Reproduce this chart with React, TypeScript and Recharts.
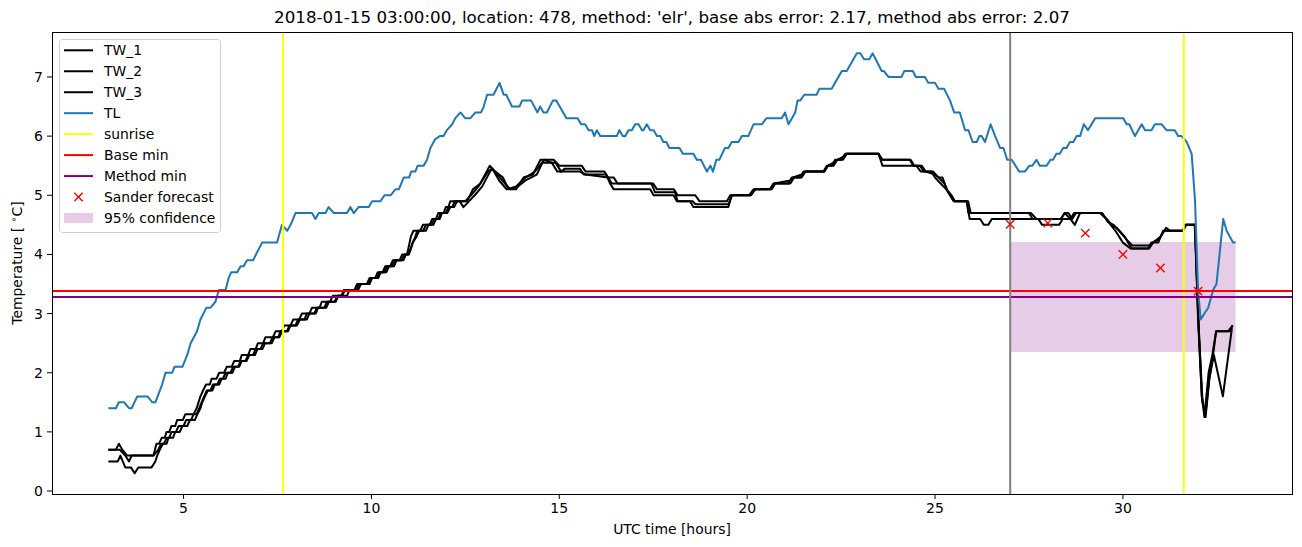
import {
  ComposedChart,
  Line,
  Scatter,
  XAxis,
  YAxis,
  ReferenceLine,
  ReferenceArea,
} from "recharts";

const W = 1302;
const H = 547;
const FONT = "DejaVu Sans, Verdana, sans-serif";

const TITLE =
  "2018-01-15 03:00:00, location: 478, method: 'elr', base abs error: 2.17, method abs error: 2.07";

const X_TICKS = [5, 10, 15, 20, 25, 30];
const Y_TICKS = [0, 1, 2, 3, 4, 5, 6, 7];

// [hour, temperature]
const TW_1: [number, number][] = [
  [3.0, 0.7], [3.2, 0.7], [3.28, 0.8], [3.37, 0.7], [3.5, 0.6], [4.2, 0.6], [4.28, 0.8],
  [4.35, 0.8], [4.42, 0.9], [4.5, 0.9], [4.55, 1.0], [4.62, 1.0], [4.68, 1.1], [4.78, 1.1],
  [4.83, 1.2], [4.98, 1.2], [5.05, 1.3], [5.27, 1.3], [5.35, 1.4], [5.4, 1.5], [5.45, 1.6],
  [5.52, 1.7], [5.6, 1.8], [5.7, 1.8], [5.75, 1.9], [5.88, 1.9], [5.95, 2.0], [6.08, 2.0],
  [6.15, 2.1], [6.28, 2.1], [6.35, 2.2], [6.5, 2.2], [6.55, 2.3], [6.72, 2.3], [6.78, 2.4],
  [6.92, 2.4], [6.98, 2.5], [7.12, 2.5], [7.18, 2.6], [7.38, 2.6], [7.45, 2.7], [7.62, 2.7],
  [7.68, 2.8], [7.85, 2.8], [7.92, 2.9], [8.08, 2.9], [8.15, 3.0], [8.35, 3.0], [8.42, 3.1],
  [8.62, 3.1], [8.68, 3.2], [8.9, 3.2], [8.97, 3.3], [9.2, 3.3], [9.27, 3.4], [9.55, 3.4],
  [9.62, 3.5], [9.88, 3.5], [9.95, 3.6], [10.1, 3.6], [10.17, 3.7], [10.3, 3.7], [10.37, 3.8],
  [10.5, 3.8], [10.57, 3.9], [10.75, 3.9], [10.82, 4.0], [10.95, 4.0], [11.05, 4.3], [11.12, 4.4],
  [11.3, 4.4], [11.37, 4.5], [11.55, 4.5], [11.62, 4.6], [11.72, 4.6], [11.78, 4.7], [11.92, 4.7],
  [11.98, 4.8], [12.05, 4.8], [12.1, 4.9], [12.55, 4.9],
  [12.7, 5.1], [12.9, 5.2], [13.15, 5.5], [13.3, 5.4], [13.5, 5.3], [13.65, 5.1], [13.85, 5.1],
  [14.05, 5.3], [14.3, 5.35], [14.5, 5.6], [14.85, 5.6], [15.0, 5.5], [15.6, 5.5], [15.7, 5.4],
  [16.2, 5.4], [16.3, 5.3], [16.45, 5.3], [16.55, 5.2], [17.5, 5.2], [17.6, 5.1], [18.05, 5.1],
  [18.15, 5.0], [18.62, 5.0], [18.73, 4.9], [19.46, 4.9], [19.55, 5.0], [20.05, 5.0], [20.17, 5.1],
  [20.61, 5.1], [20.7, 5.2], [21.1, 5.2], [21.19, 5.3], [21.41, 5.3], [21.5, 5.4], [22.03, 5.4],
  [22.12, 5.5], [22.25, 5.5], [22.34, 5.6], [22.5, 5.6], [22.61, 5.7], [23.49, 5.7], [23.58, 5.6],
  [24.33, 5.6], [24.42, 5.5], [24.6, 5.5], [24.7, 5.4], [24.95, 5.4], [25.09, 5.3], [25.2, 5.3],
  [25.31, 5.1], [25.44, 5.0], [25.53, 4.9], [25.84, 4.9], [25.89, 4.7], [27.5, 4.7], [27.6, 4.6],
  [28.35, 4.6], [28.45, 4.7], [28.6, 4.6], [28.7, 4.7], [29.4, 4.7], [29.57, 4.6], [29.7, 4.5],
  [29.83, 4.45], [30.05, 4.3], [30.23, 4.1], [30.67, 4.1], [30.76, 4.2], [30.94, 4.2], [31.07, 4.4],
  [31.25, 4.4], [31.6, 4.4], [31.65, 4.5], [31.91, 4.5], [32.03, 2.6], [32.12, 1.5], [32.2, 1.3],
  [32.3, 1.9], [32.4, 2.3], [32.48, 2.7], [32.8, 2.7], [32.92, 2.8],
];

const TW_2: [number, number][] = [
  [3.0, 0.7], [3.3, 0.7], [3.45, 0.6], [3.55, 0.5], [3.62, 0.6], [4.2, 0.6], [4.33, 0.7],
  [4.4, 0.8], [4.48, 0.8], [4.55, 0.9], [4.62, 0.9], [4.68, 1.0], [4.8, 1.0], [4.87, 1.1],
  [5.0, 1.1], [5.07, 1.2], [5.2, 1.2], [5.27, 1.3], [5.35, 1.3], [5.42, 1.4], [5.48, 1.5],
  [5.55, 1.6], [5.62, 1.7], [5.72, 1.7], [5.78, 1.8], [5.9, 1.8], [5.97, 1.9], [6.05, 1.9],
  [6.12, 2.0], [6.25, 2.0], [6.32, 2.1], [6.45, 2.1], [6.52, 2.2], [6.65, 2.2], [6.72, 2.3],
  [6.85, 2.3], [6.92, 2.4], [7.05, 2.4], [7.12, 2.5], [7.3, 2.5], [7.37, 2.6], [7.52, 2.6],
  [7.58, 2.7], [7.75, 2.7], [7.82, 2.8], [7.98, 2.8], [8.05, 2.9], [8.22, 2.9], [8.28, 3.0],
  [8.48, 3.0], [8.55, 3.1], [8.75, 3.1], [8.82, 3.2], [9.02, 3.2], [9.1, 3.3], [9.22, 3.3],
  [9.3, 3.4], [9.6, 3.4], [9.67, 3.5], [9.92, 3.5], [10.0, 3.6], [10.15, 3.6], [10.22, 3.7],
  [10.35, 3.7], [10.42, 3.8], [10.55, 3.8], [10.62, 3.9], [10.8, 3.9], [10.88, 4.0], [10.98, 4.0],
  [11.05, 4.1], [11.1, 4.2], [11.17, 4.3], [11.22, 4.4], [11.38, 4.4], [11.45, 4.5], [11.6, 4.5],
  [11.67, 4.6], [11.78, 4.6], [11.85, 4.7], [11.98, 4.7], [12.05, 4.8], [12.15, 4.8], [12.22, 4.9],
  [12.35, 4.9], [12.45, 4.8], [12.6, 4.9], [12.75, 5.0], [12.95, 5.15], [13.2, 5.45], [13.35, 5.35],
  [13.55, 5.2], [13.7, 5.1], [13.9, 5.15], [14.1, 5.25], [14.4, 5.35], [14.55, 5.55], [14.9, 5.55],
  [15.05, 5.4], [15.15, 5.45], [15.55, 5.45], [15.65, 5.35], [16.25, 5.35], [16.35, 5.2],
  [16.45, 5.1], [17.42, 5.1], [17.51, 5.0], [18.04, 5.0], [18.13, 4.9], [18.48, 4.9], [18.57, 4.8],
  [19.5, 4.8], [19.59, 5.0], [20.1, 5.0], [20.22, 5.1], [20.65, 5.1], [20.75, 5.2], [21.15, 5.2],
  [21.25, 5.3], [21.45, 5.3], [21.55, 5.4], [22.05, 5.4], [22.15, 5.5], [22.3, 5.5], [22.4, 5.6],
  [22.55, 5.6], [22.65, 5.7], [23.5, 5.7], [23.6, 5.5], [24.5, 5.5], [24.62, 5.4], [24.9, 5.4],
  [25.0, 5.3], [25.15, 5.2], [25.3, 5.1], [25.4, 5.0], [25.5, 4.9], [25.85, 4.9], [25.92, 4.6],
  [26.2, 4.6], [26.3, 4.5], [26.42, 4.5], [26.51, 4.6], [27.75, 4.6], [27.85, 4.5], [28.3, 4.5],
  [28.4, 4.6], [28.6, 4.6], [28.72, 4.5], [28.86, 4.7], [29.4, 4.7], [29.55, 4.6], [29.8, 4.4],
  [30.0, 4.2], [30.2, 4.1], [30.7, 4.1], [30.8, 4.2], [31.0, 4.3], [31.15, 4.45], [31.25, 4.4],
  [31.6, 4.4], [31.68, 4.5], [31.92, 4.5], [32.0, 3.0], [32.1, 1.6], [32.17, 1.25], [32.28, 2.0],
  [32.38, 2.3], [32.48, 2.7], [32.85, 2.7], [32.92, 2.8],
];

const TW_3: [number, number][] = [
  [3.0, 0.5], [3.25, 0.5], [3.32, 0.6], [3.45, 0.4], [3.6, 0.4], [3.7, 0.3], [3.8, 0.4],
  [4.15, 0.4], [4.25, 0.5], [4.3, 0.6], [4.37, 0.7], [4.45, 0.8], [4.55, 0.8], [4.6, 0.9],
  [4.72, 0.9], [4.78, 1.0], [4.9, 1.0], [4.97, 1.1], [5.1, 1.1], [5.17, 1.2], [5.3, 1.2],
  [5.37, 1.3], [5.45, 1.4], [5.5, 1.5], [5.57, 1.6], [5.65, 1.7], [5.77, 1.7], [5.83, 1.8],
  [5.95, 1.8], [6.02, 1.9], [6.12, 1.9], [6.18, 2.0], [6.3, 2.0], [6.37, 2.1], [6.48, 2.1],
  [6.55, 2.2], [6.68, 2.2], [6.75, 2.3], [6.9, 2.3], [6.97, 2.4], [7.1, 2.4], [7.17, 2.5],
  [7.35, 2.5], [7.42, 2.6], [7.55, 2.6], [7.62, 2.7], [7.78, 2.7], [7.85, 2.8], [8.02, 2.8],
  [8.1, 2.9], [8.28, 2.9], [8.35, 3.0], [8.52, 3.0], [8.58, 3.1], [8.8, 3.1], [8.87, 3.2],
  [9.05, 3.2], [9.12, 3.3], [9.35, 3.3], [9.42, 3.4], [9.65, 3.4], [9.72, 3.5], [9.95, 3.5],
  [10.02, 3.6], [10.18, 3.6], [10.25, 3.7], [10.4, 3.7], [10.47, 3.8], [10.6, 3.8], [10.67, 3.9],
  [10.85, 3.9], [10.92, 4.0], [11.0, 4.0], [11.1, 4.2], [11.2, 4.3], [11.27, 4.4], [11.45, 4.4],
  [11.52, 4.5], [11.65, 4.5], [11.72, 4.6], [11.82, 4.6], [11.88, 4.7], [12.02, 4.7], [12.1, 4.8],
  [12.2, 4.8], [12.28, 4.9], [12.5, 4.9],
  [12.65, 5.0], [12.85, 5.15], [13.1, 5.4], [13.22, 5.45], [13.4, 5.25], [13.6, 5.1],
  [13.85, 5.15], [14.1, 5.3], [14.35, 5.4], [14.6, 5.6], [14.8, 5.55], [14.95, 5.4], [15.55, 5.4],
  [15.7, 5.35], [16.3, 5.3], [16.4, 5.2], [17.45, 5.2], [17.55, 5.05], [18.08, 5.05], [18.15, 4.9],
  [18.55, 4.9], [18.62, 4.85], [19.5, 4.85], [19.6, 5.0], [20.1, 5.0], [20.2, 5.1], [20.6, 5.1],
  [20.72, 5.2], [21.15, 5.25], [21.22, 5.3], [21.45, 5.35], [21.55, 5.4], [22.05, 5.4], [22.15, 5.5],
  [22.3, 5.55], [22.4, 5.6], [22.55, 5.65], [22.65, 5.7], [23.5, 5.7], [23.6, 5.6], [24.35, 5.6],
  [24.45, 5.5], [24.65, 5.5], [24.75, 5.4], [25.0, 5.35], [25.1, 5.3], [25.25, 5.2], [25.35, 5.05],
  [25.5, 4.9], [25.88, 4.9], [25.95, 4.7], [27.55, 4.7], [27.7, 4.6], [28.35, 4.6], [28.45, 4.7],
  [28.55, 4.7], [28.65, 4.6], [28.75, 4.7], [29.45, 4.7], [29.6, 4.55], [29.75, 4.5], [29.9, 4.4],
  [30.1, 4.25], [30.25, 4.15], [30.7, 4.15], [30.8, 4.2], [30.95, 4.25], [31.1, 4.4], [31.6, 4.4],
  [31.68, 4.5], [31.92, 4.5], [32.0, 2.9], [32.1, 1.6], [32.2, 1.25], [32.3, 1.9], [32.42, 2.3],
  [32.66, 1.6], [32.9, 2.75],
];

const TL: [number, number][] = [
  [3.0, 1.4], [3.2, 1.4], [3.28, 1.5], [3.42, 1.5], [3.55, 1.4], [3.62, 1.4], [3.77, 1.6],
  [4.04, 1.6], [4.17, 1.5], [4.25, 1.5], [4.43, 1.8], [4.52, 2.0], [4.7, 2.0], [4.76, 2.1],
  [4.97, 2.1], [5.1, 2.3], [5.19, 2.5], [5.36, 2.7], [5.45, 2.9], [5.61, 3.1], [5.72, 3.1],
  [5.85, 3.2], [5.94, 3.4], [6.12, 3.4], [6.2, 3.6], [6.27, 3.7], [6.43, 3.7], [6.52, 3.8],
  [6.6, 3.8], [6.69, 3.9], [6.85, 3.9], [7.09, 4.2], [7.49, 4.2], [7.62, 4.5], [7.76, 4.4],
  [7.85, 4.5], [7.98, 4.7], [8.42, 4.7], [8.51, 4.6], [8.6, 4.7], [8.78, 4.7], [8.86, 4.8],
  [9.0, 4.7], [9.35, 4.7], [9.44, 4.8], [9.53, 4.7], [9.66, 4.8], [9.93, 4.8], [10.02, 4.9],
  [10.24, 4.9], [10.35, 5.0], [10.51, 5.0], [10.64, 5.1], [10.73, 5.1], [10.86, 5.3], [11.0, 5.3],
  [11.06, 5.4], [11.17, 5.4], [11.23, 5.5], [11.39, 5.5], [11.48, 5.6], [11.57, 5.8], [11.7, 5.95],
  [11.82, 6.0], [11.92, 6.0], [12.01, 6.1], [12.15, 6.2], [12.23, 6.3], [12.37, 6.4], [12.5, 6.3],
  [12.63, 6.3], [12.77, 6.4], [12.92, 6.4], [12.99, 6.5], [13.08, 6.7], [13.25, 6.7], [13.41, 6.9],
  [13.52, 6.7], [13.59, 6.7], [13.74, 6.5], [13.94, 6.5], [14.01, 6.6], [14.25, 6.6], [14.42, 6.4],
  [14.49, 6.5], [14.58, 6.4], [14.67, 6.4], [14.83, 6.6], [14.92, 6.6], [15.19, 6.3], [15.49, 6.3],
  [15.58, 6.2], [15.69, 6.2], [15.78, 6.1], [15.87, 6.1], [15.93, 6.0], [16.0, 6.1], [16.09, 6.0],
  [16.53, 6.0], [16.6, 6.1], [16.69, 6.0], [16.76, 6.0], [16.84, 6.1], [16.93, 6.1], [17.02, 6.2],
  [17.11, 6.2], [17.2, 6.1], [17.24, 6.1], [17.33, 6.2], [17.42, 6.1], [17.51, 6.1], [17.6, 6.0],
  [17.69, 6.0], [17.77, 5.9], [17.85, 5.9], [17.93, 5.8], [18.2, 5.8], [18.29, 5.7], [18.57, 5.7],
  [18.66, 5.6], [18.77, 5.6], [18.93, 5.4], [19.02, 5.5], [19.09, 5.4], [19.18, 5.6], [19.26, 5.6],
  [19.41, 5.8], [19.5, 5.8], [19.59, 5.9], [19.77, 5.9], [19.86, 6.0], [20.03, 6.0], [20.17, 6.2],
  [20.39, 6.2], [20.51, 6.3], [20.92, 6.3], [21.01, 6.4], [21.1, 6.2], [21.28, 6.4], [21.34, 6.6],
  [21.41, 6.6], [21.52, 6.7], [21.85, 6.7], [21.92, 6.8], [22.25, 6.8], [22.52, 7.1], [22.65, 7.1],
  [22.92, 7.4], [23.01, 7.4], [23.11, 7.3], [23.25, 7.3], [23.34, 7.4], [23.58, 7.1], [23.64, 7.1],
  [23.76, 7.0], [24.11, 7.0], [24.18, 7.1], [24.41, 7.1], [24.49, 7.0], [24.73, 7.0], [24.82, 6.9],
  [25.0, 6.9], [25.09, 6.8], [25.24, 6.8], [25.4, 6.6], [25.51, 6.4], [25.66, 6.4], [25.8, 6.1],
  [25.89, 6.1], [26.0, 5.9], [26.11, 5.9], [26.18, 6.0], [26.24, 6.0], [26.33, 5.9], [26.48, 6.2],
  [26.6, 6.0], [26.73, 5.8], [26.82, 5.8], [26.92, 5.6], [27.04, 5.6], [27.24, 5.4], [27.39, 5.4],
  [27.51, 5.5], [27.59, 5.5], [27.7, 5.6], [27.79, 5.5], [27.97, 5.5], [28.07, 5.6], [28.14, 5.6],
  [28.23, 5.7], [28.32, 5.7], [28.41, 5.8], [28.5, 5.8], [28.59, 5.9], [28.68, 5.9], [28.77, 6.0],
  [28.86, 6.0], [28.96, 6.2], [29.07, 6.1], [29.26, 6.3], [30.01, 6.3], [30.1, 6.2], [30.17, 6.2],
  [30.32, 6.0], [30.5, 6.2], [30.59, 6.1], [30.76, 6.1], [30.85, 6.2], [31.03, 6.2], [31.16, 6.1],
  [31.38, 6.1], [31.47, 6.0], [31.56, 6.0], [31.7, 5.9], [31.83, 5.7], [31.92, 4.9], [32.0, 3.4],
  [32.07, 2.9], [32.17, 3.0], [32.27, 3.1], [32.4, 3.4], [32.49, 3.5], [32.67, 4.6], [32.76, 4.4],
  [32.93, 4.2], [33.0, 4.2],
];

const FORECAST_HOURS = [27, 28, 29, 30, 31, 32];
const FORECAST_TEMPS = [4.51, 4.53, 4.36, 4.0, 3.77, 3.38];

const SUNRISE = [7.65, 31.62];
const NOW_HOUR = 27;
const BASE_MIN = 3.38;
const METHOD_MIN = 3.28;
const CONF_START = 27;
const CONF_END = 33;
const CONF_LOW = 2.35;
const CONF_HIGH = 4.21;

const toPoints = (pairs: [number, number][]) => pairs.map(([t, v]) => ({ t, v }));
const forecast = FORECAST_HOURS.map((t, i) => ({ t, v: FORECAST_TEMPS[i] }));

const BLUE = "#1f77b4";
const PURPLE = "#800080";

const Cross = (props: any) => {
  const { cx, cy } = props;
  const r = 4.2;
  return (
    <g stroke="red" strokeWidth={1.4}>
      <line x1={cx - r} y1={cy - r} x2={cx + r} y2={cy + r} />
      <line x1={cx - r} y1={cy + r} x2={cx + r} y2={cy - r} />
    </g>
  );
};

const LEGEND = [
  { label: "TW_1", kind: "line", color: "#000" },
  { label: "TW_2", kind: "line", color: "#000" },
  { label: "TW_3", kind: "line", color: "#000" },
  { label: "TL", kind: "line", color: BLUE },
  { label: "sunrise", kind: "line", color: "#ffff00" },
  { label: "Base min", kind: "line", color: "red" },
  { label: "Method min", kind: "line", color: PURPLE },
  { label: "Sander forecast", kind: "cross", color: "red" },
  { label: "95% confidence", kind: "patch", color: PURPLE },
];

export default function App() {
  const lineProps = {
    dataKey: "v",
    dot: false,
    activeDot: false,
    isAnimationActive: false,
    strokeWidth: 2,
    strokeLinejoin: "round" as const,
    type: "linear" as const,
  };
  return (
    <div style={{ position: "absolute", left: 0, top: 0, width: W, height: H, background: "#fff", fontFamily: FONT }}>
      <ComposedChart width={W} height={H} margin={{ top: 32, right: 10, left: 0, bottom: 0 }}>
        <XAxis
          dataKey="t"
          type="number"
          domain={[1.5, 34.5]}
          allowDataOverflow
          ticks={X_TICKS}
          height={53}
          tickSize={5}
          tickMargin={4}
          axisLine={false}
          tickLine={{ stroke: "#000" }}
          tick={{ fill: "#000", fontSize: 14, fontFamily: FONT }}
        />
        <YAxis
          type="number"
          domain={[-0.05, 7.76]}
          allowDataOverflow
          ticks={Y_TICKS}
          width={52}
          tickSize={5}
          tickMargin={4}
          axisLine={false}
          tickLine={{ stroke: "#000" }}
          tick={{ fill: "#000", fontSize: 14, fontFamily: FONT }}
        />
        <ReferenceArea
          x1={CONF_START}
          x2={CONF_END}
          y1={CONF_LOW}
          y2={CONF_HIGH}
          fill={PURPLE}
          fillOpacity={0.2}
          stroke="none"
        />
        <Line {...lineProps} data={toPoints(TW_1)} name="TW_1" stroke="#000" />
        <Line {...lineProps} data={toPoints(TW_2)} name="TW_2" stroke="#000" />
        <Line {...lineProps} data={toPoints(TW_3)} name="TW_3" stroke="#000" />
        <Line {...lineProps} data={toPoints(TL)} name="TL" stroke={BLUE} />
        {SUNRISE.map((s) => (
          <ReferenceLine key={s} x={s} stroke="#ffff00" strokeWidth={2} />
        ))}
        <ReferenceLine y={BASE_MIN} stroke="red" strokeWidth={2} />
        <ReferenceLine y={METHOD_MIN} stroke={PURPLE} strokeWidth={2} />
        <ReferenceLine x={NOW_HOUR} stroke="#808080" strokeWidth={2} />
        <Scatter data={forecast} dataKey="v" shape={Cross} isAnimationActive={false} />
      </ComposedChart>

      <div
        style={{
          position: "absolute",
          left: 52,
          top: 32,
          width: 1241,
          height: 463,
          boxSizing: "border-box",
          border: "1px solid #000",
          pointerEvents: "none",
        }}
      />

      <svg width={W} height={H} style={{ position: "absolute", left: 0, top: 0, pointerEvents: "none" }}>
        <text x={672} y={23} textAnchor="middle" fontSize={16.7} fontFamily={FONT} fill="#000">
          {TITLE}
        </text>
        <text x={672} y={534} textAnchor="middle" fontSize={13.9} fontFamily={FONT} fill="#000">
          UTC time [hours]
        </text>
        <text
          x={21.5}
          y={263}
          textAnchor="middle"
          fontSize={13.9}
          fontFamily={FONT}
          fill="#000"
          transform="rotate(-90 21.5 263)"
        >
          Temperature [ <tspan dy={-5} fontSize={9.5}>∘</tspan>
          <tspan dy={5}>C]</tspan>
        </text>

        <rect x={59.5} y={39.5} width={161} height={193} rx={3} fill="#fff" fillOpacity={0.8} stroke="#d0d0d0" />
        {LEGEND.map((item, i) => {
          const cy = 50.3 + i * 20.96;
          return (
            <g key={item.label}>
              {item.kind === "line" && (
                <line x1={64} x2={93} y1={cy} y2={cy} stroke={item.color} strokeWidth={2} />
              )}
              {item.kind === "cross" && <Cross cx={78.5} cy={cy} />}
              {item.kind === "patch" && (
                <rect x={64} y={cy - 5} width={29} height={10} fill={item.color} fillOpacity={0.2} />
              )}
              <text x={104} y={cy + 5} fontSize={13.9} fontFamily={FONT} fill="#000">
                {item.label}
              </text>
            </g>
          );
        })}
      </svg>
    </div>
  );
}
